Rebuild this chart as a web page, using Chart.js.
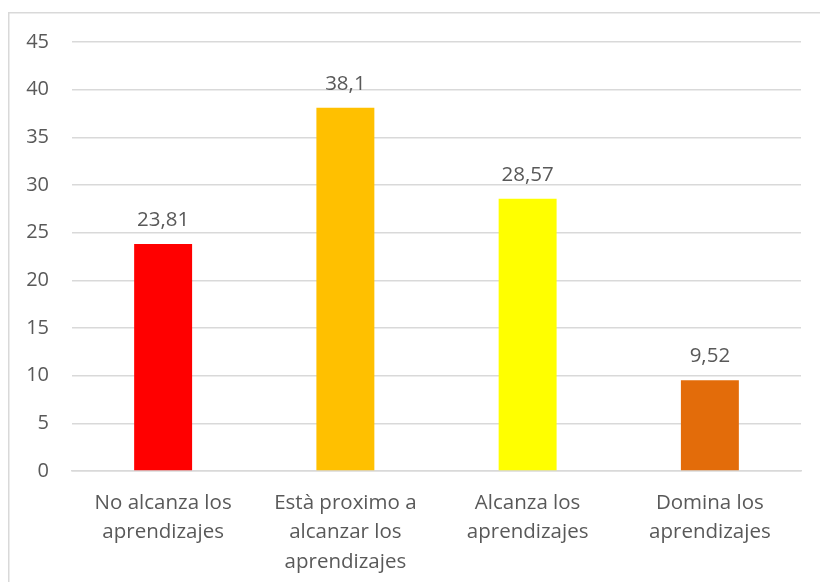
<!DOCTYPE html>
<html>
<head>
<meta charset="utf-8">
<script src="https://cdn.jsdelivr.net/npm/chart.js@4"></script>
<style>
  html, body { margin: 0; padding: 0; background: #fff; }
  #wrap { position: relative; width: 820px; height: 582px; }
</style>
</head>
<body>
<div id="wrap"><canvas id="chart" width="820" height="582"></canvas></div>
<script>
const categories = [
    ['No alcanza los', 'aprendizajes'],
    ['Està proximo a', 'alcanzar los', 'aprendizajes'],
    ['Alcanza los', 'aprendizajes'],
    ['Domina los', 'aprendizajes']
];
const values = [23.81, 38.1, 28.57, 9.52];
const valueLabels = ['23,81', '38,1', '28,57', '9,52'];
const barColors = ['#FF0000', '#FFC000', '#FFFF00', '#E36C0A'];
const yTicks = [0, 5, 10, 15, 20, 25, 30, 35, 40, 45];

const textColor = '#595959';
const fontFamily = '"Open Sans", "Noto Sans", sans-serif';

// outer frame of the chart object, it runs off the right and bottom edge
const framePlugin = {
    id: 'frame',
    beforeDraw(chart) {
        const ctx = chart.ctx;
        ctx.save();
        ctx.strokeStyle = '#d9d9d9';
        ctx.lineWidth = 1.5;
        ctx.strokeRect(8.75, 12.75, 900, 900);
        ctx.restore();
    }
};

const valueLabelPlugin = {
    id: 'valueLabels',
    afterDatasetsDraw(chart) {
        const ctx = chart.ctx;
        const meta = chart.getDatasetMeta(0);
        ctx.save();
        ctx.fillStyle = textColor;
        ctx.font = '20.5px ' + fontFamily;
        ctx.textAlign = 'center';
        ctx.textBaseline = 'alphabetic';
        meta.data.forEach((bar, i) => {
            ctx.fillText(valueLabels[i], bar.x, bar.y - 18);
        });
        ctx.restore();
    }
};

new Chart(document.getElementById('chart'), {
    type: 'bar',
    data: {
        labels: categories,
        datasets: [{
            data: values,
            backgroundColor: barColors,
            borderWidth: 0,
            categoryPercentage: 1,
            barPercentage: 0.318
        }]
    },
    options: {
        responsive: false,
        animation: false,
        layout: { padding: { top: 42, right: 19, left: 0, bottom: 0 } },
        plugins: {
            legend: { display: false },
            tooltip: { enabled: false }
        },
        scales: {
            x: {
                grid: { display: false, drawTicks: false },
                border: { display: true, color: '#d9d9d9', width: 1.5 },
                ticks: {
                    color: textColor,
                    font: { family: fontFamily, size: 20.5, lineHeight: 1.44 },
                    maxRotation: 0,
                    autoSkip: false,
                    padding: 17
                },
                afterFit(scale) { scale.height = 111; }
            },
            y: {
                min: 0,
                max: 45,
                afterBuildTicks(scale) { scale.ticks = yTicks.map(v => ({ value: v })); },
                grid: { color: '#d9d9d9', lineWidth: 1.5, drawTicks: false },
                border: { display: false },
                ticks: {
                    color: textColor,
                    font: { family: fontFamily, size: 20 },
                    padding: 23
                },
                afterFit(scale) { scale.width = 72; }
            }
        }
    },
    plugins: [framePlugin, valueLabelPlugin]
});
</script>
</body>
</html>
